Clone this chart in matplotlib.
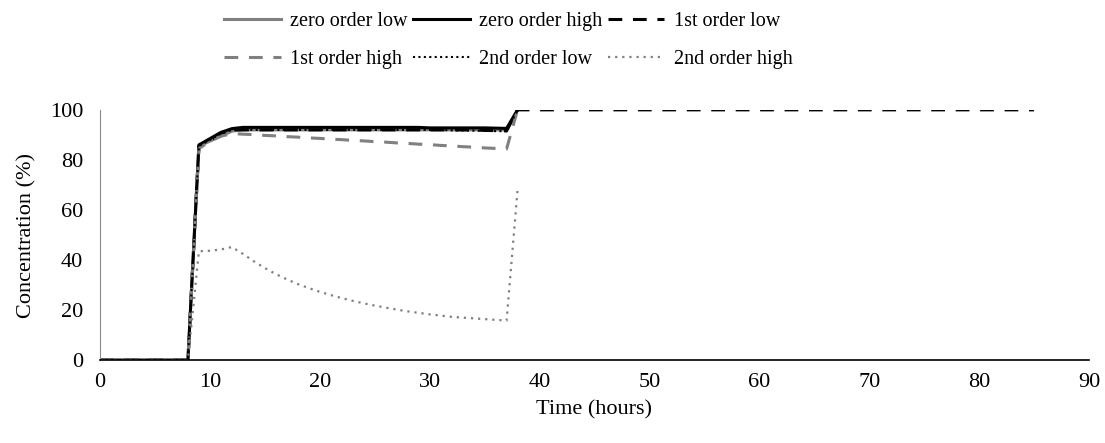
import numpy as np
import matplotlib.pyplot as plt

# 00 Data (hourly values)
Hours = list(range(0, 39))

ZeroLow = [0, 0, 0, 0, 0, 0, 0, 0, 0,
           85.5, 87.5, 89.5, 91.5, 92, 92, 92, 92, 92, 92, 92, 92, 92, 92, 92, 92,
           92, 92, 92, 92, 92, 92, 92, 92, 92, 92, 92, 92, 92, 100]
ZeroHigh = [0, 0, 0, 0, 0, 0, 0, 0, 0,
            86, 88.5, 91, 92.5, 93, 93, 93, 93, 93, 93, 93, 93, 93, 93, 93, 93,
            93, 93, 93, 93, 93, 92.8, 92.8, 92.8, 92.8, 92.8, 92.8, 92.7, 92.6, 100]
FirstLow = [0, 0, 0, 0, 0, 0, 0, 0, 0,
            85.5, 88, 90, 92, 92, 92, 92, 92, 92, 92, 92, 92, 92, 92, 92, 92,
            92, 92, 92, 92, 92, 92, 92, 92, 92, 92, 91.8, 91.7, 91.6, 100]
FirstLowTailHours = [85]
FirstLowTail = [100]
FirstHigh = [0, 0, 0, 0, 0, 0, 0, 0, 0,
             84.5, 87.5, 89.5, 90.5, 90.3, 90.1, 89.8, 89.6, 89.3, 89.1, 88.8, 88.6, 88.3,
             88.1, 87.8, 87.6, 87.3, 87.1, 86.8, 86.6, 86.3, 86.1, 85.8, 85.6, 85.3, 85.1,
             84.8, 84.6, 84.4, 100]
SecondLow = [0, 0, 0, 0, 0, 0, 0, 0, 0,
             85.5, 88, 90.5, 92, 92, 92, 92, 92, 92, 92, 92, 92, 92, 92, 92, 92,
             92, 92, 92, 92, 92, 92, 92, 91.8, 91.8, 91.7, 91.6, 91.5, 91.5, 100]
SecondHigh = [0, 0, 0, 0, 0, 0, 0, 0, 0,
              43.5, 43.7, 44.2, 45.2, 42.5, 39.5, 36.8, 34.4, 32.3, 30.4, 28.8, 27.3, 26,
              24.8, 23.7, 22.7, 21.8, 21, 20.2, 19.5, 18.9, 18.3, 17.8, 17.3, 17, 16.7,
              16.4, 16.1, 15.8, 68]

Labels = ['zero order low', 'zero order high', '1st order low',
          '1st order high', '2nd order low', '2nd order high']

# 01 Plot
plt.rcParams['font.family'] = ['Liberation Serif', 'DejaVu Serif']
plt.rc('font', size=16)

Gray = (0.5, 0.5, 0.5)
Black = (0, 0, 0)

Figure = plt.figure(figsize=(11.05, 4.43), dpi=100)
Axes = Figure.add_axes([0.0905, 0.187, 0.895, 0.565])

Lines = []
Lines += Axes.plot(Hours, ZeroLow, color=Gray, linewidth=2.2, label=Labels[0])
Lines += Axes.plot(Hours, ZeroHigh, color=Black, linewidth=2.2, label=Labels[1])
Lines += Axes.plot(Hours + FirstLowTailHours, FirstLow + FirstLowTail, color=Black, linewidth=2.2,
                   linestyle=(0, (4.5, 3.5)), label=Labels[2])
Lines += Axes.plot(Hours, FirstHigh, color=Gray, linewidth=2.2,
                   linestyle=(0, (4.5, 3.5)), label=Labels[3])
Lines += Axes.plot(Hours, SecondLow, color=Black, linewidth=1.5,
                   linestyle=(0, (1, 1.6)), label=Labels[4])
Lines += Axes.plot(Hours, SecondHigh, color=Gray, linewidth=1.6,
                   linestyle=(0, (1, 2.2)), label=Labels[5])

Axes.set_xlim([0, 90])
Axes.set_ylim([0, 100])
Axes.set_xticks(np.arange(0, 91, 10))
Axes.set_yticks(np.arange(0, 101, 20))
Axes.set_xlabel('Time (hours)', labelpad=6)
Axes.set_ylabel('Concentration (%)', labelpad=10)
Axes.spines['top'].set_visible(False)
Axes.spines['right'].set_visible(False)
Axes.spines['bottom'].set_linewidth(1.2)
Axes.spines['left'].set_linewidth(0.8)
Axes.spines['left'].set_color((0.55, 0.55, 0.55))
Axes.tick_params(axis='x', length=0, pad=9)
Axes.tick_params(axis='y', length=0, pad=12)
Axes.margins(0)

# column-major fill so rows read left to right like the original
Order = [0, 3, 1, 4, 2, 5]
Figure.legend([Lines[i] for i in Order], [Labels[i] for i in Order],
              loc='upper center', bbox_to_anchor=(0.46, 1.015), ncol=3, frameon=False,
              fontsize=14.5, handlelength=2.8, columnspacing=0.3, handletextpad=0.45,
              labelspacing=0.95)

plt.savefig('out.png', dpi=100)
plt.close(Figure)
